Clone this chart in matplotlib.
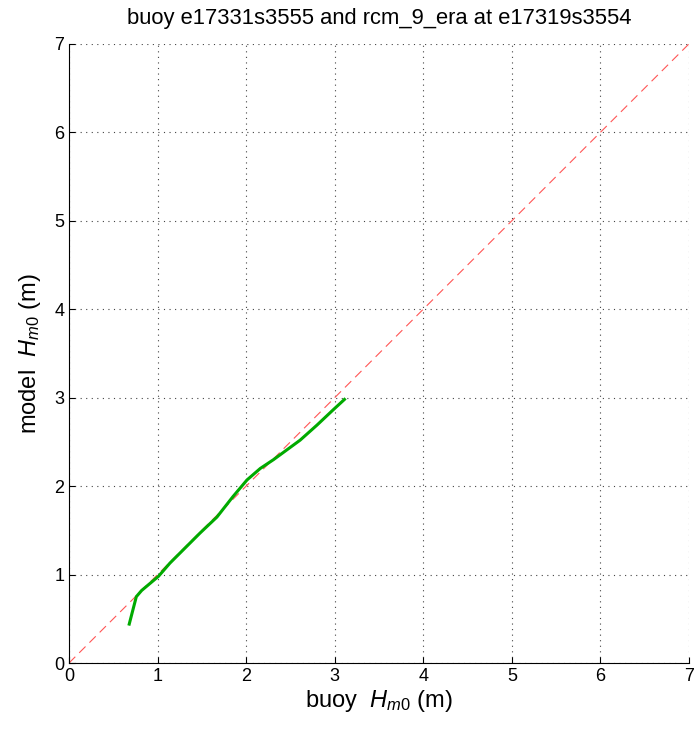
import matplotlib
matplotlib.use('Agg')
import matplotlib.pyplot as plt

plt.rcParams['font.family'] = 'Liberation Sans'
plt.rcParams['mathtext.fontset'] = 'custom'
plt.rcParams['mathtext.rm'] = 'Liberation Sans'
plt.rcParams['mathtext.it'] = 'Liberation Sans:italic'

# quantile-quantile curve, buoy vs model Hm0
buoy_hm0 = [0.68, 0.76, 0.82, 1.01, 1.14, 1.29, 1.48, 1.67, 1.85, 2.01, 2.16,
            2.31, 2.46, 2.61, 2.80, 2.98, 3.11]
model_hm0 = [0.44, 0.75, 0.82, 0.98, 1.13, 1.28, 1.47, 1.65, 1.88, 2.07, 2.20,
             2.30, 2.41, 2.52, 2.69, 2.86, 2.98]
ticks = [0, 1, 2, 3, 4, 5, 6, 7]

fig = plt.figure(figsize=(6.97, 7.31), dpi=100)
ax = fig.add_axes([0.099, 0.093, 0.8895, 0.847])

ax.plot([0, 7], [0, 7], color='#ff5555', lw=0.8, dashes=(8, 5))
ax.plot(buoy_hm0, model_hm0, color='#00aa00', lw=2.2)

ax.set_xlim(0, 7)
ax.set_ylim(0, 7)
ax.set_xticks(ticks)
ax.set_yticks(ticks)
ax.tick_params(direction='in', labelsize=13, length=4)
ax.grid(True, linestyle=(0, (1, 4)), color='#444444', lw=0.8)
ax.spines['top'].set_visible(False)
ax.spines['right'].set_visible(False)

ax.set_title('buoy e17331s3555 and rcm_9_era at e17319s3554', fontsize=15.8, pad=14)
ax.set_xlabel(r'buoy  $H_{\mathit{m0}}$ (m)', fontsize=17, labelpad=2)
ax.set_ylabel(r'model  $H_{\mathit{m0}}$ (m)', fontsize=17, labelpad=8)

plt.savefig('out.png', dpi=100)
